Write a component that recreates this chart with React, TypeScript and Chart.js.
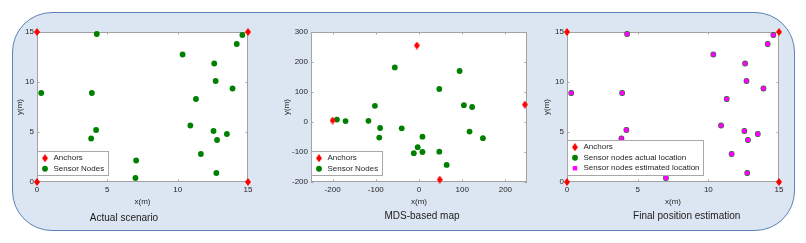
import React, { useEffect, useRef } from "react";
import { Chart, registerables } from "chart.js";

Chart.register(...registerables);

// ---------- data ----------
const anchorX = [0, 15, 0, 15];
const anchorY = [15, 15, 0, 0];

const nodeX = [0.3, 4.25, 3.9, 4.2, 3.85, 7.05, 7.0, 10.35, 11.3, 10.9, 11.65, 12.6, 12.7, 12.55, 12.8, 12.75, 13.5, 13.9, 14.2, 14.6];
const nodeY = [8.9, 14.8, 8.9, 5.2, 4.35, 2.15, 0.4, 12.75, 8.3, 5.65, 2.8, 11.85, 10.1, 5.1, 4.2, 0.9, 4.8, 9.35, 13.8, 14.7];

const estX = [0.3, 4.25, 3.9, 4.2, 3.85, 7.05, 7.0, 10.35, 11.3, 10.9, 11.65, 12.6, 12.7, 12.55, 12.8, 12.75, 13.5, 13.9, 14.2, 14.6];
const estY = [8.9, 14.8, 8.9, 5.2, 4.35, 2.15, 0.4, 12.75, 8.3, 5.65, 2.8, 11.85, 10.1, 5.1, 4.2, 0.9, 4.8, 9.35, 13.8, 14.7];

const mdsAnchorX = [-5, -200, 245, 48];
const mdsAnchorY = [255, 5, 58, -192];

const mdsNodeX = [-190, -170, -117, -102, -90, -92, -56, -40, -3, -12, 8, 8, 47, 47, 64, 94, 104, 123, 117, 148];
const mdsNodeY = [8, 3, 4, 54, -20, -52, 182, -21, -84, -104, -49, -100, 110, -99, -143, 170, 56, 50, -32, -54];

const fieldTicks = [0, 5, 10, 15];
const mdsXTicks = [-200, -100, 0, 100, 200];
const mdsYTicks = [-200, -100, 0, 100, 200, 300];

const captions = ["Actual scenario", "MDS-based map", "Final position estimation"];
const legendAnchors = "Anchors";
const legendNodes = "Sensor Nodes";
const legendActual = "Sensor nodes actual location";
const legendEst = "Sensor nodes estimated location";

// ---------- styling ----------
const FONT = '"Liberation Sans", Arial, Helvetica, sans-serif';
const TEXT = "#262626";
const FRAME = "#a2a2a2";
const RED = "#ff0000";
const GREEN = "#008000";
const MAGENTA = "#ff00ff";

let diamondCache: HTMLCanvasElement | null = null;
function diamond(): HTMLCanvasElement {
  if (diamondCache) return diamondCache;
  const c = document.createElement("canvas");
  c.width = 6;
  c.height = 8;
  const g = c.getContext("2d")!;
  g.fillStyle = RED;
  g.beginPath();
  g.moveTo(3, 0);
  g.lineTo(6, 4);
  g.lineTo(3, 8);
  g.lineTo(0, 4);
  g.closePath();
  g.fill();
  diamondCache = c;
  return c;
}

const pts = (xs: number[], ys: number[]) => xs.map((x, i) => ({ x, y: ys[i] }));

function drawMarker(ctx: CanvasRenderingContext2D, ds: any, x: number, y: number) {
  const st = ds.pointStyle;
  if (typeof st === "object") {
    ctx.drawImage(st, x - st.width / 2, y - st.height / 2);
  } else if (st === "rect") {
    const s = Math.SQRT1_2 * ds.pointRadius;
    ctx.fillStyle = ds.backgroundColor;
    ctx.fillRect(x - s, y - s, 2 * s, 2 * s);
  } else {
    ctx.fillStyle = ds.backgroundColor;
    ctx.beginPath();
    ctx.arc(x, y, ds.pointRadius, 0, Math.PI * 2);
    ctx.fill();
  }
}

const decoPlugin = {
  id: "deco",
  beforeDatasetsDraw(chart: any, _args: any, opts: any) {
    const { ctx, chartArea: ca } = chart;
    ctx.save();
    ctx.fillStyle = "#ffffff";
    ctx.fillRect(ca.left, ca.top, ca.right - ca.left, ca.bottom - ca.top);
    ctx.strokeStyle = FRAME;
    ctx.lineWidth = 1;
    ctx.strokeRect(ca.left + 0.5, ca.top + 0.5, ca.right - ca.left - 1, ca.bottom - ca.top - 1);
    const tl = 2.5;
    ctx.beginPath();
    for (const t of chart.scales.x.ticks) {
      const px = Math.round(chart.scales.x.getPixelForValue(t.value)) + 0.5;
      ctx.moveTo(px, ca.bottom);
      ctx.lineTo(px, ca.bottom - tl);
      ctx.moveTo(px, ca.top);
      ctx.lineTo(px, ca.top + tl);
    }
    for (const t of chart.scales.y.ticks) {
      const py = Math.round(chart.scales.y.getPixelForValue(t.value)) + 0.5;
      ctx.moveTo(ca.left, py);
      ctx.lineTo(ca.left + tl, py);
      ctx.moveTo(ca.right, py);
      ctx.lineTo(ca.right - tl, py);
    }
    ctx.stroke();
    ctx.restore();
  },
  afterDatasetsDraw(chart: any) {
    const { ctx, chartArea: ca } = chart;
    const dss = chart.data.datasets;
    ctx.save();
    ctx.font = `8px ${FONT}`;
    const maxW = Math.max(...dss.map((d: any) => ctx.measureText(d.label).width));
    const rowH = 10.5;
    const boxW = Math.round(16 + maxW + 4);
    const boxH = Math.round(dss.length * rowH + 3);
    const bx = Math.round(ca.left) + 0.5;
    const by = Math.round(ca.bottom - 7 - boxH) + 0.5;
    ctx.fillStyle = "#ffffff";
    ctx.fillRect(bx, by, boxW, boxH);
    ctx.strokeStyle = "#a8a8a8";
    ctx.lineWidth = 1;
    ctx.strokeRect(bx, by, boxW, boxH);
    dss.forEach((d: any, i: number) => {
      const cy = by + 1.5 + rowH * (i + 0.5);
      drawMarker(ctx, d, bx + 7.5, cy);
      ctx.fillStyle = TEXT;
      ctx.textBaseline = "middle";
      ctx.textAlign = "left";
      ctx.fillText(d.label, bx + 16, cy);
    });
    ctx.restore();
  },
  afterDraw(chart: any, _args: any, opts: any) {
    const { ctx } = chart;
    ctx.save();
    ctx.font = `10px ${FONT}`;
    ctx.fillStyle = "#1a1a1a";
    ctx.textAlign = "center";
    ctx.textBaseline = "middle";
    ctx.fillText(opts.text, opts.x, opts.y);
    ctx.restore();
  },
};

type PanelCfg = {
  left: number;
  width: number;
  axisW: number;
  rightPad: number;
  yTitlePad: number;
  caption: string;
  capX: number;
  capY: number;
  xr: [number, number];
  yr: [number, number];
  xTicks: number[];
  yTicks: number[];
  datasets: any[];
};

function buildConfig(p: PanelCfg): any {
  const tickFont = { family: FONT, size: 8 };
  return {
    type: "scatter",
    data: { datasets: p.datasets },
    plugins: [decoPlugin],
    options: {
      responsive: false,
      animation: false,
      devicePixelRatio: 1,
      events: [],
      layout: { padding: { top: 32, right: p.rightPad, bottom: 36, left: 0 } },
      plugins: {
        legend: { display: false },
        tooltip: { enabled: false },
        title: { display: false },
        deco: { text: p.caption, x: p.capX, y: p.capY },
      },
      scales: {
        x: {
          type: "linear",
          min: p.xr[0],
          max: p.xr[1],
          afterFit: (s: any) => {
            s.height = 25;
          },
          afterBuildTicks: (s: any) => {
            s.ticks = p.xTicks.map((v) => ({ value: v }));
          },
          grid: { display: false, drawTicks: false },
          border: { display: false },
          ticks: { font: tickFont, color: TEXT, padding: 3, maxRotation: 0, autoSkip: false },
          title: { display: true, text: "x(m)", font: tickFont, color: TEXT, padding: { top: 0, bottom: 0 } },
        },
        y: {
          type: "linear",
          min: p.yr[0],
          max: p.yr[1],
          afterFit: (s: any) => {
            s.width = p.axisW;
          },
          afterBuildTicks: (s: any) => {
            s.ticks = p.yTicks.map((v) => ({ value: v }));
          },
          grid: { display: false, drawTicks: false },
          border: { display: false },
          ticks: { font: tickFont, color: TEXT, padding: 3, autoSkip: false },
          title: { display: true, text: "y(m)", font: tickFont, color: TEXT, padding: { top: p.yTitlePad, bottom: 0 } },
        },
      },
    },
  };
}

function anchorsDs(xs: number[], ys: number[]) {
  return {
    label: legendAnchors,
    data: pts(xs, ys),
    pointStyle: diamond(),
    pointRadius: 4,
    backgroundColor: RED,
    borderWidth: 0,
    clip: false,
    order: 0,
  };
}

function nodesDs(label: string, xs: number[], ys: number[]) {
  return {
    label,
    data: pts(xs, ys),
    pointStyle: "circle",
    pointRadius: 2.9,
    backgroundColor: GREEN,
    borderColor: GREEN,
    borderWidth: 0,
    clip: false,
    order: 2,
  };
}

function estDs(xs: number[], ys: number[]) {
  return {
    label: legendEst,
    data: pts(xs, ys),
    pointStyle: "rect",
    pointRadius: 3.1,
    backgroundColor: MAGENTA,
    borderColor: MAGENTA,
    borderWidth: 0,
    clip: false,
    order: 1,
  };
}

function Panel({ make }: { make: () => PanelCfg }) {
  const ref = useRef<HTMLCanvasElement>(null);
  const cfgRef = useRef<PanelCfg | null>(null);
  if (!cfgRef.current) cfgRef.current = make();
  const p = cfgRef.current;
  useEffect(() => {
    const chart = new Chart(ref.current!, buildConfig(p));
    return () => chart.destroy();
  }, []);
  return (
    <canvas
      ref={ref}
      width={p.width}
      height={243}
      style={{ position: "absolute", left: p.left, top: 0, width: p.width, height: 243 }}
    />
  );
}

const panel1 = (): PanelCfg => ({
  left: 0,
  width: 268,
  axisW: 37,
  rightPad: 20,
  yTitlePad: 14.5,
  caption: captions[0],
  capX: 124,
  capY: 218,
  xr: [0, 15],
  yr: [0, 15],
  xTicks: fieldTicks,
  yTicks: fieldTicks,
  datasets: [anchorsDs(anchorX, anchorY), nodesDs(legendNodes, nodeX, nodeY)],
});

const panel2 = (): PanelCfg => ({
  left: 270,
  width: 266,
  axisW: 41,
  rightPad: 9,
  yTitlePad: 11.9,
  caption: captions[1],
  capX: 152,
  capY: 216.5,
  xr: [-250, 250],
  yr: [-200, 300],
  xTicks: mdsXTicks,
  yTicks: mdsYTicks,
  datasets: [anchorsDs(mdsAnchorX, mdsAnchorY), nodesDs(legendNodes, mdsNodeX, mdsNodeY)],
});

const panel3 = (): PanelCfg => ({
  left: 536,
  width: 270,
  axisW: 31,
  rightPad: 27,
  yTitlePad: 6.2,
  caption: captions[2],
  capX: 150.7,
  capY: 216.5,
  xr: [0, 15],
  yr: [0, 15],
  xTicks: fieldTicks,
  yTicks: fieldTicks,
  datasets: [anchorsDs(anchorX, anchorY), nodesDs(legendActual, nodeX, nodeY), estDs(estX, estY)],
});

export default function App() {
  return (
    <div style={{ position: "fixed", left: 0, top: 0, width: 806, height: 243, overflow: "hidden", background: "#ffffff" }}>
      <div
        style={{
          position: "absolute",
          left: 12,
          top: 12,
          width: 783,
          height: 219,
          boxSizing: "border-box",
          background: "#dce6f2",
          border: "1px solid #5b83b6",
          borderRadius: 40,
        }}
      />
      <Panel make={panel1} />
      <Panel make={panel2} />
      <Panel make={panel3} />
    </div>
  );
}
